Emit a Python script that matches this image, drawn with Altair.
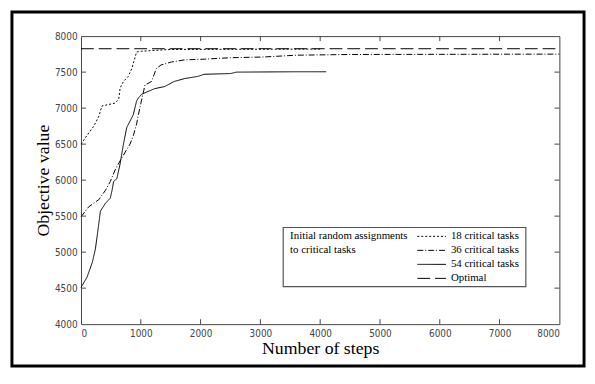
import altair as alt
import pandas as pd

# ---- data ----
steps18 = [0, 100, 215, 300, 350, 460, 570, 630, 655, 710, 790, 850, 930, 1010, 1290, 1500, 4000]
obj18 = [6500, 6620, 6750, 6890, 7030, 7050, 7070, 7120, 7280, 7370, 7440, 7550, 7780, 7790, 7805, 7815, 7820]

steps36 = [0, 130, 300, 410, 490, 570, 655, 740, 820, 875, 930, 960, 1010, 1070, 1180, 1260, 1340,
           1510, 1730, 2060, 2500, 3050, 3600, 4500, 8000]
obj36 = [5490, 5630, 5730, 5860, 5980, 6140, 6270, 6390, 6500, 6620, 6780, 6910, 7100, 7320, 7370, 7550, 7600,
         7640, 7670, 7680, 7700, 7710, 7735, 7745, 7750]

steps54 = [0, 100, 190, 240, 270, 300, 325, 410, 490, 520, 545, 600, 655, 710, 765, 820, 875, 930, 960,
           1010, 1090, 1230, 1400, 1560, 1730, 1950, 2060, 2500, 2600, 3600, 4100]
obj54 = [4510, 4650, 4860, 5040, 5220, 5410, 5570, 5680, 5750, 5860, 5980, 6020, 6230, 6500, 6730, 6820, 6910,
         7100, 7140, 7190, 7220, 7270, 7300, 7370, 7410, 7440, 7470, 7480, 7500, 7505, 7505]

steps_opt = [0, 8000]
obj_opt = [7825, 7825]

series_names = ["18 critical tasks", "36 critical tasks", "54 critical tasks", "Optimal"]
series_dashes = [[2, 2], [6, 2, 1, 2], [1, 0], [13, 5]]
legend_title = ["Initial random assignments", "to critical tasks"]

x_ticks = [0, 1000, 2000, 3000, 4000, 5000, 6000, 7000, 8000]
y_ticks = [4000, 4500, 5000, 5500, 6000, 6500, 7000, 7500, 8000]
x_inner = [1000, 2000, 3000, 4000, 5000, 6000, 7000]
y_inner = [4500, 5000, 5500, 6000, 6500, 7000, 7500]

# ---- build ----
W, H = 485, 292
SERIF = "Liberation Serif"
SANS = "Liberation Sans Narrow, DejaVu Sans Condensed, Liberation Sans, sans-serif"

rows = []
for name, st, ob in zip(series_names, [steps18, steps36, steps54, steps_opt], [obj18, obj36, obj54, obj_opt]):
    for s, o in zip(st, ob):
        rows.append({"series": name, "step": s, "obj": o})
df = pd.DataFrame(rows)

xs = alt.Scale(domain=[0, 8000], nice=False)
ys = alt.Scale(domain=[4000, 8000], nice=False)

xaxis = alt.Axis(
    title="Number of steps", values=x_ticks, ticks=False, grid=False, domain=False,
    labelFont=SANS, labelFontSize=10, labelColor="#444", labelPadding=5,
    titleFont=SERIF, titleFontSize=18, titleFontWeight="normal", titleColor="black",
    titlePadding=1, format="d")
yaxis = alt.Axis(
    title="Objective value", values=y_ticks, ticks=False, grid=False, domain=False,
    labelFont=SANS, labelFontSize=10, labelColor="#444", labelPadding=4,
    titleFont=SERIF, titleFontSize=18, titleFontWeight="normal", titleColor="black",
    titlePadding=2, format="d")

lines = alt.Chart(df).mark_line(color="black", strokeWidth=1).encode(
    x=alt.X("step:Q", scale=xs, axis=xaxis),
    y=alt.Y("obj:Q", scale=ys, axis=yaxis),
    strokeDash=alt.StrokeDash("series:N", scale=alt.Scale(domain=series_names, range=series_dashes), legend=None),
    detail="series:N",
)

xt = pd.DataFrame({"t": x_inner})
yt = pd.DataFrame({"t": y_inner})
tick_color = "#444"
ticks_bottom = alt.Chart(xt).mark_rule(color=tick_color).encode(
    x=alt.X("t:Q", scale=xs, axis=xaxis), y=alt.value(H), y2=alt.value(H - 5))
ticks_top = alt.Chart(xt).mark_rule(color=tick_color).encode(
    x=alt.X("t:Q", scale=xs, axis=xaxis), y=alt.value(0), y2=alt.value(5))
ticks_left = alt.Chart(yt).mark_rule(color=tick_color).encode(
    y=alt.Y("t:Q", scale=ys, axis=yaxis), x=alt.value(0), x2=alt.value(5))
ticks_right = alt.Chart(yt).mark_rule(color=tick_color).encode(
    y=alt.Y("t:Q", scale=ys, axis=yaxis), x=alt.value(W), x2=alt.value(W - 5))

one = pd.DataFrame({"a": [0]})

# legend
lx0, lx1, ly0, ly1 = 205, 451, 194, 254
legend_box = alt.Chart(one).mark_rect(fill="white", stroke="#555", strokeWidth=1.2).encode(
    x=alt.value(lx0), x2=alt.value(lx1), y=alt.value(ly0), y2=alt.value(ly1))

legend_layers = [legend_box]
for i, t in enumerate(legend_title):
    legend_layers.append(alt.Chart(one).mark_text(
        font=SERIF, fontSize=11, align="left", baseline="middle", color="black").encode(
        text=alt.value(t), x=alt.value(lx0 + 7), y=alt.value(ly0 + 9 + 14 * i)))
for i, (name, dash) in enumerate(zip(series_names, series_dashes)):
    yy = ly0 + 9 + 14.2 * i
    legend_layers.append(alt.Chart(one).mark_rule(color="black", strokeWidth=1, strokeDash=dash).encode(
        x=alt.value(341), x2=alt.value(370), y=alt.value(yy)))
    legend_layers.append(alt.Chart(one).mark_text(
        font=SERIF, fontSize=11, align="left", baseline="middle", color="black").encode(
        text=alt.value(name), x=alt.value(375), y=alt.value(yy)))

border = alt.Chart(one).mark_rect(filled=False, stroke="black", strokeWidth=3).encode(
    x=alt.value(-70), x2=alt.value(510), y=alt.value(-24.5), y2=alt.value(334.5))

chart = alt.layer(
    lines, ticks_bottom, ticks_top, ticks_left, ticks_right, *legend_layers, border
).properties(
    width=W, height=H, autosize="none",
    padding={"left": 74, "top": 26, "right": 28, "bottom": 45},
).configure_view(stroke="#444", strokeWidth=1).configure_text(font=SERIF)

chart.save("out.html", embed_options={"renderer": "svg", "actions": False})
